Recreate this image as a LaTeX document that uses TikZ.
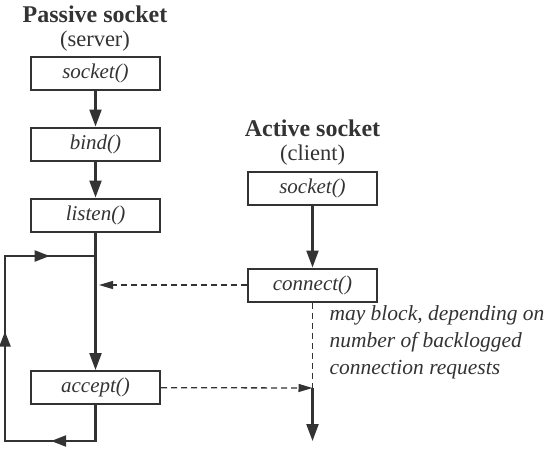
\documentclass[tikz,border=0pt]{standalone}
\usepackage{fontspec}
\setmainfont{Liberation Serif}
\usepackage{tikz}
\usetikzlibrary{arrows.meta,decorations.markings}
\definecolor{ink}{rgb}{0.2,0.2,0.2}

\tikzset{
    call/.style={draw=ink,line width=2pt,minimum width=129pt,minimum height=33pt,
        inner sep=0pt,font=\itshape\fontsize{21}{23}\selectfont,text=ink},
    title/.style={text=ink,font=\bfseries\fontsize{24}{26}\selectfont},
    role/.style={text=ink,font=\fontsize{22.5}{24}\selectfont},
    flow/.style={draw=ink,line width=2.2pt,-{Triangle[length=17pt,width=12pt]}},
    hint/.style={draw=ink,line width=1.3pt,dash pattern=on 6pt off 4pt},
    hintarrow/.style={hint,-{Triangle[length=14pt,width=8pt]}},
}

\begin{document}
\begin{tikzpicture}[line cap=butt,line join=miter,x=1pt,y=-1pt]
    \useasboundingbox (0,0) rectangle (549,448);
    % passive side
    \node[title] (ptitle) at (95,14) {Passive socket};
    \node[role] (prole) at (95,41) {(server)};
    \node[call] (psock) at (95.5,73.5) {socket()};
    \node[call] (bind) at (95.5,144) {bind()};
    \node[call] (listen) at (95.5,215) {listen()};
    \node[call] (accept) at (95.5,387.5) {accept()};
    \draw[flow] (psock) -- (bind);
    \draw[flow] (bind) -- (listen);
    \draw[flow] (listen) -- (accept);
    % loop back round accept()
    \coordinate (lb) at (5,441);
    \coordinate (lt) at (5,256);
    \coordinate (jn) at (95.5,256);
    \draw[draw=ink,line width=2.2pt,postaction={decorate,decoration={markings,
        mark=at position 0.2 with {\arrow{Triangle[length=15pt,width=11pt]}},
        mark=at position 0.587 with {\arrow{Triangle[length=15pt,width=11pt]}},
        mark=at position 0.886 with {\arrow{Triangle[length=15pt,width=11pt]}}}}]
        (accept.south) |- (lb) -- (lt) -- (jn);
    % active side
    \node[title] (atitle) at (312.5,128) {Active socket};
    \node[role] (arole) at (312.5,155) {(client)};
    \node[call] (asock) at (312.5,188.5) {socket()};
    \node[call] (connect) at (312.5,285) {connect()};
    \draw[flow] (asock) -- (connect);
    \coordinate (recv) at (99,285);
    \coordinate (blk) at (312.5,388);
    \coordinate (rend) at (312.5,441);
    \draw[hintarrow] (connect) -- (recv);
    \draw[hint] (connect) -- (blk);
    \draw[hintarrow] (accept) -- (blk);
    \draw[flow] (blk) -- (rend);
    \node[text=ink,anchor=north west,align=left,font=\itshape\fontsize{21.5}{27}\selectfont]
        (note) at (326,302) {may block, depending on\\number of backlogged\\connection requests};
\end{tikzpicture}
\end{document}
